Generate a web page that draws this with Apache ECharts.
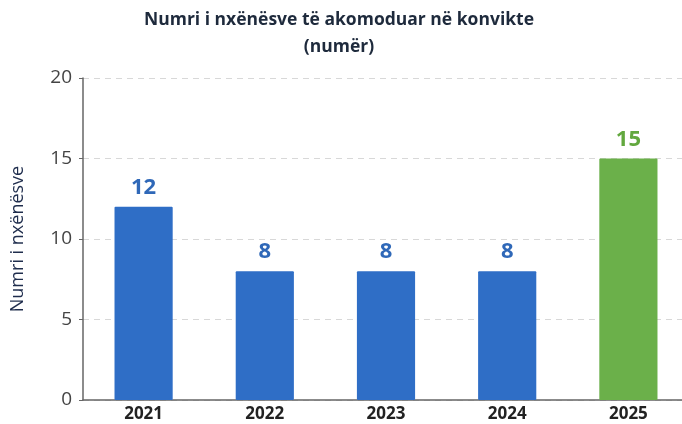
<!DOCTYPE html>
<html>
<head>
<meta charset="utf-8">
<script src="https://cdn.jsdelivr.net/npm/echarts@6/dist/echarts.min.js"></script>
<style>
  html, body { margin: 0; padding: 0; background: #fff; overflow: hidden; }
  /* the plot runs a little past the right edge, as in the source image */
  #chart { width: 692px; height: 424px; }
</style>
</head>
<body>
<div id="chart"></div>
<script>
const years = ['2021', '2022', '2023', '2024', '2025'];
const students = [12, 8, 8, 8, 15];
const yTicks = [0, 5, 10, 15, 20];

const barColors = ['#2f6ec6', '#2f6ec6', '#2f6ec6', '#2f6ec6', '#6bb04a'];
const labelColors = ['#2f68b8', '#2f68b8', '#2f68b8', '#2f68b8', '#62a83e'];

const chart = echarts.init(document.getElementById('chart'));
chart.setOption({
  animation: false,
  title: {
    text: 'Numri i nxënësve të akomoduar në konvikte\n(numër)',
    left: 334,
    textAlign: 'center',
    top: 2,
    textStyle: {
      fontFamily: 'Open Sans',
      fontSize: 17.5,
      fontWeight: 'bold',
      color: '#1e2a3c',
      lineHeight: 27,
    },
  },
  grid: { left: 83, top: 78, width: 606, height: 322 },
  xAxis: {
    type: 'category',
    data: years,
    axisLine: { lineStyle: { color: '#666', width: 1.5 } },
    axisTick: { alignWithLabel: true, length: 4, lineStyle: { color: '#666' } },
    axisLabel: {
      fontFamily: 'Open Sans',
      fontSize: 17,
      fontWeight: 'bold',
      color: '#222',
      margin: 6,
    },
  },
  yAxis: {
    type: 'value',
    min: yTicks[0],
    max: yTicks[yTicks.length - 1],
    interval: 5,
    name: 'Numri i nxënësve',
    nameLocation: 'middle',
    nameGap: 56,
    nameTextStyle: { fontFamily: 'Open Sans', fontSize: 18, color: '#1f2d4d' },
    axisLine: { show: true, lineStyle: { color: '#666', width: 1.5 } },
    axisTick: { show: true, length: 4, lineStyle: { color: '#666' } },
    axisLabel: { fontFamily: 'Open Sans', fontSize: 19, color: '#444', margin: 11 },
    splitLine: { lineStyle: { color: '#d8d8d8', type: [6, 5] } },
  },
  series: [
    {
      type: 'bar',
      barWidth: '48%',
      data: students.map((v, i) => ({
        value: v,
        itemStyle: { color: barColors[i], borderRadius: 1 },
        label: { color: labelColors[i] },
      })),
      label: {
        show: true,
        position: 'top',
        distance: 8,
        fontFamily: 'Open Sans',
        fontSize: 22,
        fontWeight: 'bold',
      },
    },
  ],
});
</script>
</body>
</html>
